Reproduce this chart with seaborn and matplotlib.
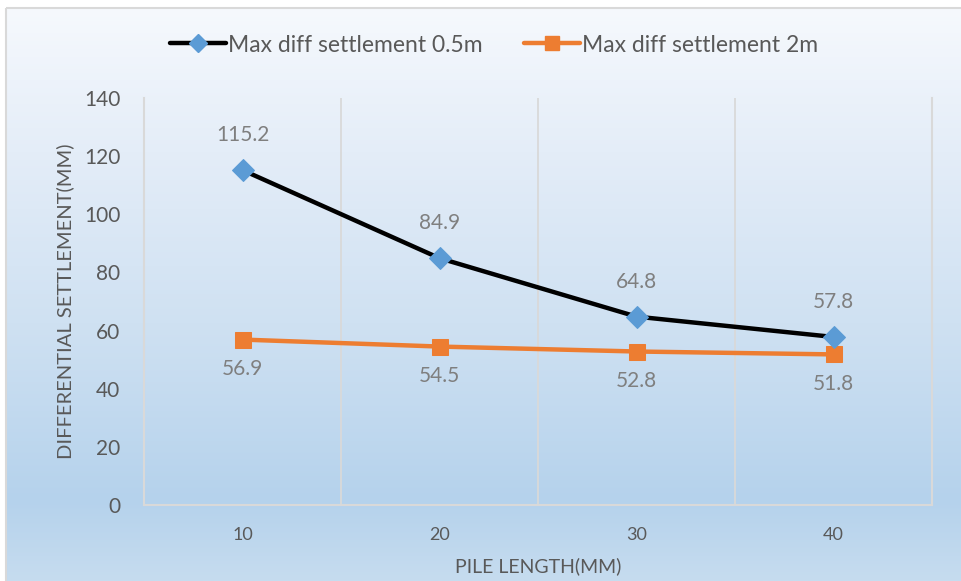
import numpy as np
import pandas as pd
import seaborn as sns
import matplotlib.pyplot as plt
from matplotlib.lines import Line2D
from matplotlib.patches import Rectangle
from matplotlib.colors import LinearSegmentedColormap

# Data
pile_length = ["10", "20", "30", "40"]
settle_05m = [115.2, 84.9, 64.8, 57.8]
settle_2m = [56.9, 54.5, 52.8, 51.8]
series_names = ["Max diff settlement 0.5m", "Max diff settlement 2m"]
y_ticks = [0, 20, 40, 60, 80, 100, 120, 140]

sns.set_theme(style="white")
plt.rcParams["font.family"] = ["Lato", "DejaVu Sans"]

W, H = 961, 581
fig = plt.figure(figsize=(W / 100, H / 100), dpi=100)
fig.patch.set_facecolor("white")

# Gradient chart-area background with a thin border
bg = fig.add_axes([0, 0, 1, 1], zorder=-10)
cmap = LinearSegmentedColormap.from_list(
    "bg",
    [(0.0, "#f6f9fd"), (0.25, "#e4edf8"), (0.55, "#cfe1f2"),
     (0.86, "#b5d2ec"), (1.0, "#c6dcef")],
)
grad = np.linspace(0, 1, 256).reshape(-1, 1)
bg.imshow(grad, aspect="auto", cmap=cmap, extent=[6, W, H, 8], origin="upper")
bg.set_xlim(0, W)
bg.set_ylim(H, 0)
bg.add_patch(Rectangle((5.5, 7.5), W, H, fill=False, edgecolor="#d9d9d9", linewidth=1.5))
bg.axis("off")

ax = fig.add_axes([144 / W, 1 - 505 / H, (932 - 144) / W, (505 - 98) / H])
ax.set_facecolor("none")

df05 = pd.DataFrame({"pile": pile_length, "value": settle_05m})
df2 = pd.DataFrame({"pile": pile_length, "value": settle_2m})

sns.lineplot(data=df05, x="pile", y="value", ax=ax, color="black", linewidth=3.2,
             marker="D", markersize=11, markerfacecolor="#5b9bd5",
             markeredgecolor="#5b9bd5", zorder=4)
sns.lineplot(data=df2, x="pile", y="value", ax=ax, color="#ed7d31", linewidth=3.2,
             marker="s", markersize=12, markerfacecolor="#ed7d31",
             markeredgecolor="#ed7d31", zorder=3)

label_color = "#7f7f7f"
for i, v in enumerate(settle_05m):
    ax.annotate(f"{v}", (i, v), xytext=(0, 25), textcoords="offset points",
                ha="center", va="center", fontsize=15, color=label_color)
for i, v in enumerate(settle_2m):
    ax.annotate(f"{v}", (i, v), xytext=(0, -21), textcoords="offset points",
                ha="center", va="center", fontsize=15, color=label_color)

ax.set_xlim(-0.5, len(pile_length) - 0.5)
ax.set_ylim(0, 140)
ax.set_yticks(y_ticks)
ax.set_yticklabels([str(t) for t in y_ticks], fontsize=15, color="#595959")
ax.set_xticks(range(len(pile_length)))
ax.set_xticklabels(pile_length, fontsize=13, color="#595959")
ax.tick_params(axis="y", length=0, pad=17)
ax.tick_params(axis="x", length=0, pad=16)

# Category separators
grid_color = "#d9d9d9"
for b in np.arange(0.5, len(pile_length) - 1, 1.0):
    ax.axvline(b, color=grid_color, linewidth=1.3, zorder=1)
for s in ["left", "right", "bottom"]:
    ax.spines[s].set_visible(True)
    ax.spines[s].set_color(grid_color)
    ax.spines[s].set_linewidth(1.5)
ax.spines["top"].set_visible(False)
ax.grid(False)

ax.set_xlabel("PILE LENGTH(MM)", fontsize=14, color="#595959", labelpad=10)
ax.set_ylabel("DIFFERENTIAL SETTLEMENT(MM)", fontsize=14.5, color="#595959", labelpad=7)

handles = [
    Line2D([], [], color="black", linewidth=3.2, marker="D", markersize=9,
           markerfacecolor="#5b9bd5", markeredgecolor="#5b9bd5"),
    Line2D([], [], color="#ed7d31", linewidth=3.2, marker="s", markersize=10,
           markerfacecolor="#ed7d31", markeredgecolor="#ed7d31"),
]
fig.legend(handles, series_names, loc="center", bbox_to_anchor=(0.514, 1 - 45 / H),
           ncol=2, frameon=False, fontsize=16.5, handlelength=2.45, handletextpad=0.1,
           columnspacing=1.8, labelcolor="#595959")

fig.savefig("out.png", dpi=100)
